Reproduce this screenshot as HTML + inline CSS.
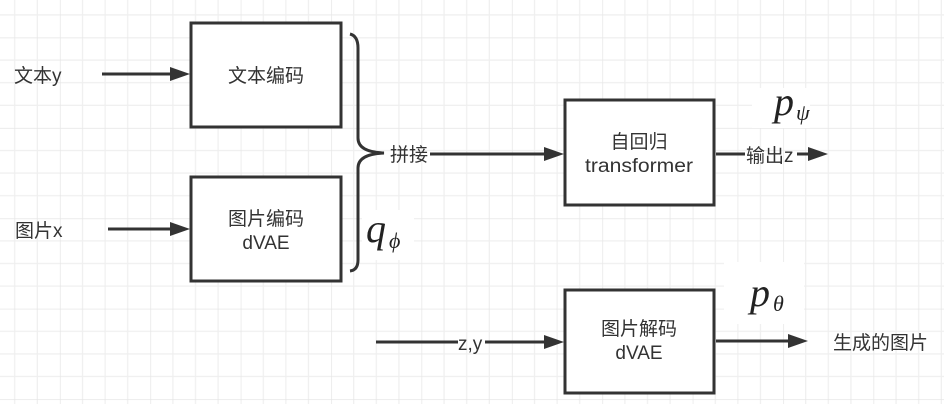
<!DOCTYPE html>
<html><head><meta charset="utf-8"><style>
body{margin:0;width:944px;height:404px;overflow:hidden;background:#fff}
svg text{font-family:"Liberation Sans","Noto Sans CJK SC",sans-serif;fill:#333}
.m{font-family:"Liberation Serif","DejaVu Serif",serif;font-style:italic;fill:#222}
</style></head><body>
<svg width="944" height="404" viewBox="0 0 944 404" xmlns="http://www.w3.org/2000/svg">
<defs>
<pattern id="g" x="-30.5" y="37.5" width="90.4" height="90.4" patternUnits="userSpaceOnUse">
<path d="M22.6 0V90.4M45.2 0V90.4M67.8 0V90.4M0 22.6H90.4M0 45.2H90.4M0 67.8H90.4" stroke="#efefef" stroke-width="1.2"/>
<path d="M0 0V90.4M0 0H90.4" stroke="#e6e6e6" stroke-width="1.4"/>
</pattern>
</defs>
<rect width="944" height="404" fill="url(#g)"/>
<g stroke="#333" stroke-width="3" fill="#fff">
<rect x="191" y="23" width="150" height="104"/>
<rect x="191" y="177" width="150" height="104"/>
<rect x="565" y="100" width="149" height="105"/>
<rect x="565" y="290" width="149" height="103"/>
</g>
<g stroke="#333" stroke-width="3" fill="none">
<path d="M102 74H180" />
<path d="M108 229H180" />
<path d="M430 154H555"/>
<path d="M716 154H745M797 154H816"/>
<path d="M376 342H458M485 342H555"/>
<path d="M716 341H797"/>
<path d="M350 34Q358 36 358 48V138Q358 152 384 153Q358 154 358 168V260Q358 270 350 271"/>
</g>
<g fill="#333">
<path d="M170 67L190 74L170 81Z"/>
<path d="M170 222L190 229L170 236Z"/>
<path d="M544 147L564 154L544 161Z"/>
<path d="M808 147L828 154L808 161Z"/>
<path d="M544 335L564 342L544 349Z"/>
<path d="M788 334L808 341L788 348Z"/>
</g>
<rect x="752" y="88" width="58" height="40" fill="#fff"/>
<rect x="362" y="210" width="52" height="50" fill="#fff"/>
<rect x="724" y="262" width="80" height="62" fill="#fff"/>
<text x="14" y="82" font-size="19">文本y</text>
<text x="15" y="237" font-size="19">图片x</text>
<text x="266" y="82" font-size="19" text-anchor="middle">文本编码</text>
<text x="266" y="225" font-size="19" text-anchor="middle">图片编码</text>
<text x="266" y="249" font-size="19" text-anchor="middle">dVAE</text>
<text x="390" y="161" font-size="19">拼接</text>
<text x="639" y="148" font-size="19" text-anchor="middle">自回归</text>
<text x="585" y="172" font-size="19" textLength="108" lengthAdjust="spacingAndGlyphs">transformer</text>
<text x="746" y="162" font-size="19">输出z</text>
<text x="458" y="350" font-size="19">z,y</text>
<text x="639" y="335" font-size="19" text-anchor="middle">图片解码</text>
<text x="639" y="359" font-size="19" text-anchor="middle">dVAE</text>
<text x="833" y="349" font-size="19">生成的图片</text>
<text class="m" x="774" y="115" font-size="40">p</text><text class="m" x="796" y="120" font-size="22">ψ</text>
<text class="m" x="366" y="242" font-size="40">q</text><text class="m" x="389" y="248" font-size="22">ϕ</text>
<text class="m" x="750" y="306" font-size="40">p</text><text class="m" x="773" y="311" font-size="22">θ</text>
</svg>
</body></html>
